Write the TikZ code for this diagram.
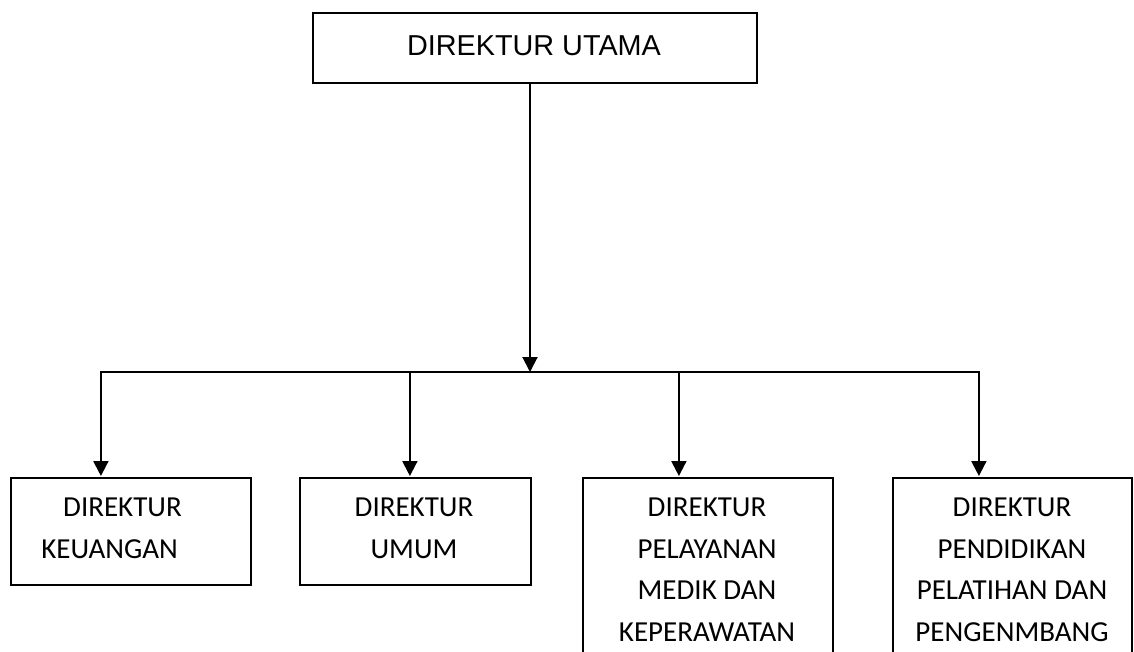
\documentclass[tikz,border=0pt]{standalone}
\usepackage{fontspec}
\setmainfont{Carlito}
\newfontfamily\arialfont{Liberation Sans}
\usetikzlibrary{arrows.meta}
\begin{document}
\begin{tikzpicture}[x=1pt,y=-1pt,
  boxnode/.style={draw, line width=1.8pt, inner sep=0pt, anchor=north west},
  arr/.style={draw, line width=2pt, -{Triangle[width=15pt,length=15pt]}},
  lbl/.style={inner sep=0pt, font=\fontsize{29}{41.5}\selectfont},
  toplbl/.style={inner sep=0pt, font=\arialfont\fontsize{28.8}{34}\selectfont}]
\useasboundingbox (0,0) rectangle (1134,652);
\fill[white] (0,0) rectangle (1134,652);
\clip (0,0) rectangle (1134,652);
% boxes
\node[boxnode, minimum width=444pt, minimum height=70pt] (top) at (312,12) {};
\node[boxnode, minimum width=240pt, minimum height=107pt] (b1) at (10,477) {};
\node[boxnode, minimum width=231pt, minimum height=107pt] (b2) at (299,477) {};
\node[boxnode, minimum width=250pt, minimum height=220pt] (b3) at (582,477) {};
\node[boxnode, minimum width=239pt, minimum height=220pt] (b4) at (892,477) {};
% texts
\node[toplbl, anchor=base] (t0) at (534,56) {DIREKTUR UTAMA};
\node[lbl, anchor=north east, align=right] (t1) at (182,498) {DIREKTUR\\KEUANGAN\hspace*{4pt}};
\node[lbl, anchor=north, align=center] (t2) at (414,498) {DIREKTUR\\UMUM};
\node[lbl, anchor=north, align=center] (t3) at (707,498) {DIREKTUR\\PELAYANAN\\MEDIK DAN\\KEPERAWATAN};
\node[lbl, anchor=north, align=center] (t4) at (1012,498) {DIREKTUR\\PENDIDIKAN\\PELATIHAN DAN\\PENGENMBANG};
% connectors
\coordinate (j) at (530,372);
\coordinate (e1) at ([xshift=-30pt,yshift=1pt]b1.north);
\coordinate (e2) at ([xshift=-5.5pt,yshift=1pt]b2.north);
\coordinate (e3) at ([xshift=-29pt,yshift=1pt]b3.north);
\coordinate (e4) at ([xshift=-33.5pt,yshift=1pt]b4.north);
\draw[arr] (j |- top.south) -- (j);
\draw[arr] (j) -| (e1);
\draw[arr] (j) -| (e4);
\draw[arr] (e2 |- j) -- (e2);
\draw[arr] (e3 |- j) -- (e3);
\end{tikzpicture}
\end{document}
